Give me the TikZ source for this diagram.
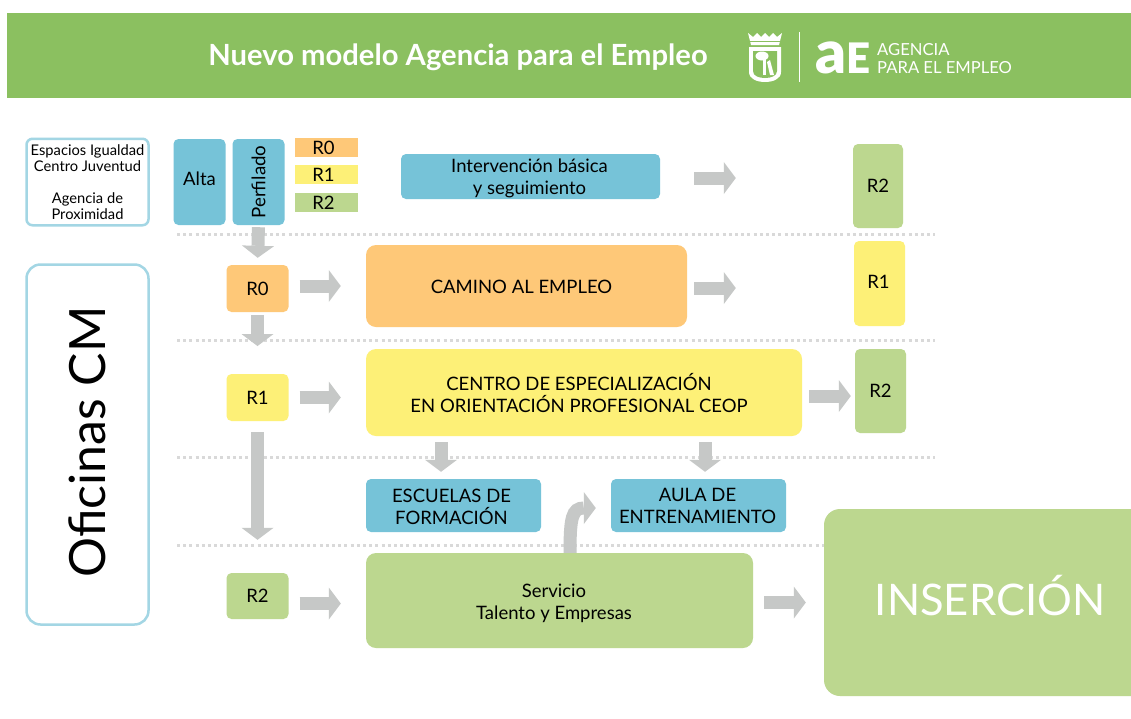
\documentclass[tikz,border=0pt]{standalone}
\usepackage{fontspec}
\setmainfont{Lato}
\newfontfamily\latoblack{Lato Black}
\usetikzlibrary{arrows.meta,positioning}
\definecolor{verdehead}{HTML}{8BC060}
\definecolor{azul}{HTML}{76C3D8}
\definecolor{azulclaro}{HTML}{A3D6E4}
\definecolor{naranja}{HTML}{FEC878}
\definecolor{amarillo}{HTML}{FDF077}
\definecolor{verde}{HTML}{BCD78F}
\definecolor{gris}{HTML}{C6C8C7}
\definecolor{punteado}{HTML}{D9D9D9}
\tikzset{
  caja/.style={draw=none,rounded corners=5pt,inner sep=0pt,align=center,text=black,font=\fontsize{18.5}{22}\selectfont},
  azulbox/.style={caja,fill=azul},
  r0box/.style={caja,fill=naranja,minimum width=62pt,minimum height=47pt},
  r1box/.style={r0box,fill=amarillo},
  r2box/.style={r0box,fill=verde},
  leyenda/.style={caja,rounded corners=0pt,minimum width=63pt,minimum height=19pt},
  marco/.style={draw=azulclaro,line width=2.5pt,fill=white,inner sep=0pt,align=center},
  flecha/.style={draw=gris,line width=13pt,-{Triangle[length=12pt,width=32pt,fill=gris,line width=0pt]}},
  punteada/.style={draw=punteado,line width=3pt,dash pattern=on 3pt off 3.2pt},
  every label/.style={align=center,inner sep=0pt,text=black,font=\fontsize{18.5}{22}\selectfont},
}
\begin{document}
\begin{tikzpicture}[x=1pt,y=-1pt,node distance=27pt,on grid]
  \useasboundingbox (0,0) rectangle (1131,718);
  \fill[white] (0,0) rectangle (1131,718);
  % cabecera
  \fill[verdehead] (7,13) rectangle (1131,98);
  \node [text=white,font=\fontsize{29.2}{32}\selectfont\bfseries] (titulo) at (458,57) {Nuevo modelo Agencia para el Empleo};
  % escudo
  \fill[white] (748,33) -- (753,37) -- (757,33) -- (761,37) -- (765,33) -- (769,37) -- (773,33) -- (777,37) -- (782,33) -- (779,45) -- (751,45) -- cycle;
  \draw[verdehead,line width=0.7pt] (750,41) -- (780,41);
  \fill[white] (749,47) -- (781,47) -- (781,72) .. controls (781,79) and (773,82) .. (765,82) .. controls (757,82) and (749,79) .. (749,72) -- cycle;
  \fill[verdehead] (753,51) -- (777,51) -- (777,71) .. controls (777,76) and (771,78) .. (765,78) .. controls (759,78) and (753,76) .. (753,71) -- cycle;
  \fill[white] (762,56) ellipse (6.5pt and 4.5pt);
  \fill[white] (763,58) rectangle (766,75);
  \fill[white] (767,62) -- (770,60) -- (774,75) -- (770,75) -- cycle;
  \draw[white,line width=0.8pt] (799,32) -- (799,82);
  \node [text=white,font=\latoblack,inner sep=0pt,anchor=base] (logoae) at (843,73) {\fontsize{60}{60}\selectfont a\kern-1pt\fontsize{42}{42}\selectfont E};
  \node [text=white,font=\fontsize{16.6}{18}\selectfont,align=left,inner sep=0pt,anchor=west] (logotxt) at (877,58.5) {AGENCIA\\PARA EL EMPLEO};
  % lineas punteadas
  \draw[punteada] (177,234) -- (935,234);
  \draw[punteada] (177,340) -- (935,340);
  \draw[punteada] (177,457) -- (935,457);
  \draw[punteada] (177,545) -- (826,545);
  % columna izquierda
  \node [marco,rounded corners=6pt,minimum width=122pt,minimum height=86.5pt,font=\fontsize{14.7}{16}\selectfont] (espacios) at (87.5,182) {Espacios Igualdad\\Centro Juventud\\[16pt]Agencia de\\Proximidad};
  \node [marco,rounded corners=14pt,minimum width=122pt,minimum height=360pt] (oficinas) at (87.5,444.5) {};
  \node [rotate=90,font=\fontsize{50}{50}\selectfont] (oficinastxt) at (87,442) {Oficinas CM};
  % fila superior
  \node [azulbox,minimum width=52pt,minimum height=86pt,label={[shift={(0pt,3pt)}]center:Alta}] (alta) at (199.5,182) {};
  \node [azulbox,minimum width=52pt,minimum height=86pt,right=59pt of alta] (perfilado) {};
  \node [rotate=90,font=\fontsize{18.7}{21}\selectfont] (perfiladotxt) at (perfilado) {Perfilado};
  \node [leyenda,fill=naranja,label={[shift={(-3pt,0pt)}]center:R0}] (ley0) at (326.5,147.5) {};
  \node [leyenda,fill=amarillo,below=of ley0,label={[shift={(-3pt,0pt)}]center:R1}] (ley1) {};
  \node [leyenda,fill=verde,below=28pt of ley1,label={[shift={(-3pt,0pt)}]center:R2}] (ley2) {};
  \node [azulbox,minimum width=259pt,minimum height=45pt,label={[shift={(-1pt,-2pt)}]center:Intervención básica\\y seguimiento}] (basica) at (530.5,176.5) {};
  \node [r2box,minimum width=50pt,minimum height=84pt] (fin0) at (878,186) {R2};
  % perfiles
  \node [r0box] (r0) at (257.5,288.5) {R0};
  \node [r1box,below=109pt of r0] (r1) {R1};
  \node [r2box,below=198.5pt of r1,minimum height=46pt] (r2) {R2};
  % programas
  \node [caja,fill=naranja,rounded corners=10pt,minimum width=321pt,minimum height=82pt,label={[shift={(-5pt,-1pt)}]center:CAMINO AL EMPLEO}] (camino) at (526.5,286) {};
  \node [caja,fill=amarillo,rounded corners=10pt,minimum width=436pt,minimum height=87pt,label={[shift={(-5pt,0pt)}]center:CENTRO DE ESPECIALIZACIÓN\\EN ORIENTACIÓN PROFESIONAL CEOP}] (centro) at (584,392.5) {};
  \node [azulbox,minimum width=175pt,minimum height=53pt,label={[shift={(-2pt,-1pt)}]center:ESCUELAS DE\\FORMACIÓN}] (escuelas) at (453.5,505.5) {};
  \node [azulbox,minimum width=175pt,minimum height=53pt,right=245pt of escuelas,label={[shift={(-1pt,0pt)}]center:AULA DE\\ENTRENAMIENTO}] (aula) {};
  \node [caja,fill=verde,rounded corners=10pt,minimum width=387pt,minimum height=95pt,label={[shift={(-5.5pt,-3pt)}]center:Servicio\\Talento y Empresas}] (servicio) at (559.5,600.5) {};
  \node [r1box,minimum width=51pt,minimum height=85pt,label={[shift={(-1pt,2pt)}]center:R1}] (fin1) at (879.5,283.5) {};
  \node [r2box,minimum width=51pt,minimum height=84pt] (fin2) at (880.5,391) {R2};
  \node [caja,fill=verde,rounded corners=16pt,minimum width=330pt,minimum height=187pt] (insercion) at (989,602.5) {};
  \node [text=white,font=\fontsize{43.5}{50}\selectfont] (insercionxt) at (990,596) {INSERCIÓN};
  % flechas
  \path[every edge/.style={flecha}]
    (perfilado.south) edge [shorten <=2pt,shorten >=7pt] (r0.north)
    (r0.south) edge [shorten <=3pt,shorten >=7pt] (r0.south |- 0,353)
    (r1.south) edge [shorten <=11pt,shorten >=33pt] (r2.north)
    (r0.east |- camino) edge [shorten <=11pt,shorten >=25pt] (camino.west)
    (r1.east) edge [shorten <=11pt,shorten >=25pt] (r1.east -| centro.west)
    ([yshift=-3pt]r2.east |- servicio) edge [shorten <=11pt,shorten >=25pt] ([yshift=-3pt]servicio.west)
    ([yshift=-1.5pt]basica.east) edge [shorten <=34pt,shorten >=117pt] ([yshift=-1.5pt]basica.east -| fin0.west)
    ([yshift=-2pt]camino.east) edge [shorten <=7pt,shorten >=118pt] ([yshift=-2pt]camino.east -| fin1.west)
    ([yshift=-3.5pt]centro.east) edge [shorten <=7pt,shorten >=4pt] ([yshift=-3.5pt]centro.east -| fin2.west)
    (servicio.east |- insercion) edge [shorten <=11pt,shorten >=18pt] (insercion.west)
    ([xshift=-12.5pt]escuelas.north |- centro.south) edge [shorten <=6pt,shorten >=7pt] ([xshift=-12.5pt]escuelas.north)
    ([xshift=6.5pt]aula.north |- centro.south) edge [shorten <=6pt,shorten >=7pt] ([xshift=6.5pt]aula.north);
  \draw[flecha,shorten >=15pt] (servicio.north -| 570,0) .. controls (570,518) and (572,508) .. ([yshift=-2.5pt]aula.west);
\end{tikzpicture}
\end{document}
